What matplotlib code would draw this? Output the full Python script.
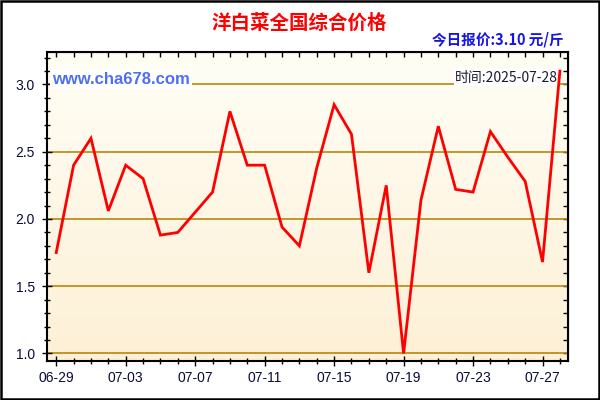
import matplotlib
matplotlib.use("Agg")
import matplotlib.pyplot as plt
import numpy as np
from matplotlib.colors import LinearSegmentedColormap
from matplotlib.ticker import MultipleLocator

plt.rcParams['font.family'] = ['Noto Sans CJK SC', 'DejaVu Sans']

# -- data --
dates = ["06-29", "06-30", "07-01", "07-02", "07-03", "07-04", "07-05", "07-06",
         "07-07", "07-08", "07-09", "07-10", "07-11", "07-12", "07-13", "07-14",
         "07-15", "07-16", "07-17", "07-18", "07-19", "07-20", "07-21", "07-22",
         "07-23", "07-24", "07-25", "07-26", "07-27", "07-28"]
prices = [1.75, 2.40, 2.60, 2.06, 2.40, 2.30, 1.88, 1.90,
          2.05, 2.20, 2.80, 2.40, 2.40, 1.94, 1.80, 2.38,
          2.85, 2.63, 1.60, 2.25, 1.00, 2.14, 2.69, 2.22,
          2.20, 2.65, 2.46, 2.28, 1.68, 3.10]
grid_levels = [1.0, 1.5, 2.0, 2.5, 3.0]

title = "洋白菜全国综合价格"
today_label = "今日报价:3.10 元/斤"
site = "www.cha678.com"
stamp = "时间:2025-07-28"

x = np.arange(len(dates))

fig = plt.figure(figsize=(6, 4), dpi=100)
fig.patch.set_facecolor("white")
# outer black frame
fig.patches.append(plt.Rectangle((0.002, 0.003), 0.996, 0.994, transform=fig.transFigure,
                                 fill=False, edgecolor="black", linewidth=1.8))

ax = fig.add_axes([0.0778, 0.0975, 0.8684, 0.7733])
xlim = (-0.55, len(dates) - 1 + 0.45)
ylim = (0.944, 3.244)
ax.set_xlim(*xlim)
ax.set_ylim(*ylim)

# vertical gradient background
cmap = LinearSegmentedColormap.from_list("bg", ["#fdf0d6", "#fffef6"])
grad = np.linspace(0, 1, 256).reshape(-1, 1)
ax.imshow(grad, extent=[xlim[0], xlim[1], ylim[0], ylim[1]], origin="lower",
          aspect="auto", cmap=cmap, zorder=0)

for lv in grid_levels:
    ax.axhline(lv, color="#b8860b", lw=1.2, zorder=1)

ax.plot(x, prices, color="red", lw=2.0, zorder=6, solid_joinstyle="miter")

# ticks: left/bottom cross the spine
ax.set_xticks(x[::4])
ax.set_xticklabels(dates[::4])
ax.xaxis.set_minor_locator(MultipleLocator(1))
ax.set_yticks(grid_levels)
ax.set_yticklabels([f"{v:.1f}" for v in grid_levels])
ax.yaxis.set_minor_locator(MultipleLocator(0.1))
ax.tick_params(axis="both", which="major", labelsize=10, labelcolor="#0a0a3a",
               width=1.0, length=7, direction="inout")
ax.tick_params(axis="both", which="minor", width=1.0, length=5, direction="inout")
ax.tick_params(axis="x", which="major", pad=4)
ax.tick_params(axis="y", which="major", pad=5)
for lbl in ax.get_xticklabels() + ax.get_yticklabels():
    lbl.set_family(["Liberation Sans"])
for sp in ax.spines.values():
    sp.set_linewidth(1.5)
    sp.set_color("black")

# top/right: inward ticks
top = ax.secondary_xaxis("top")
top.xaxis.set_major_locator(MultipleLocator(1))
top.tick_params(direction="in", length=3.5, width=1.0, labeltop=False)
right = ax.secondary_yaxis("right")
right.yaxis.set_major_locator(MultipleLocator(0.1))
right.tick_params(direction="in", length=3.5, width=1.0, labelright=False)

# watermark texts
ax.text(0.011, 0.91, site, transform=ax.transAxes, fontsize=12, fontweight="bold",
        color="#4f6ff2", family=["Liberation Sans"], va="center", ha="left", zorder=4,
        bbox=dict(facecolor="white", edgecolor="none", pad=1.5))
ax.text(0.982, 0.916, stamp, transform=ax.transAxes, fontsize=10, color="#1a1a33",
        va="center", ha="right", zorder=4,
        bbox=dict(facecolor="white", edgecolor="none", pad=1.2))

fig.text(0.499, 0.943, title, fontsize=14, fontweight="bold", color="red",
         ha="center", va="center")
fig.text(0.939, 0.902, today_label, fontsize=10.5, fontweight="bold", color="#1414e6",
         ha="right", va="center")

plt.savefig("out.png", dpi=100)
